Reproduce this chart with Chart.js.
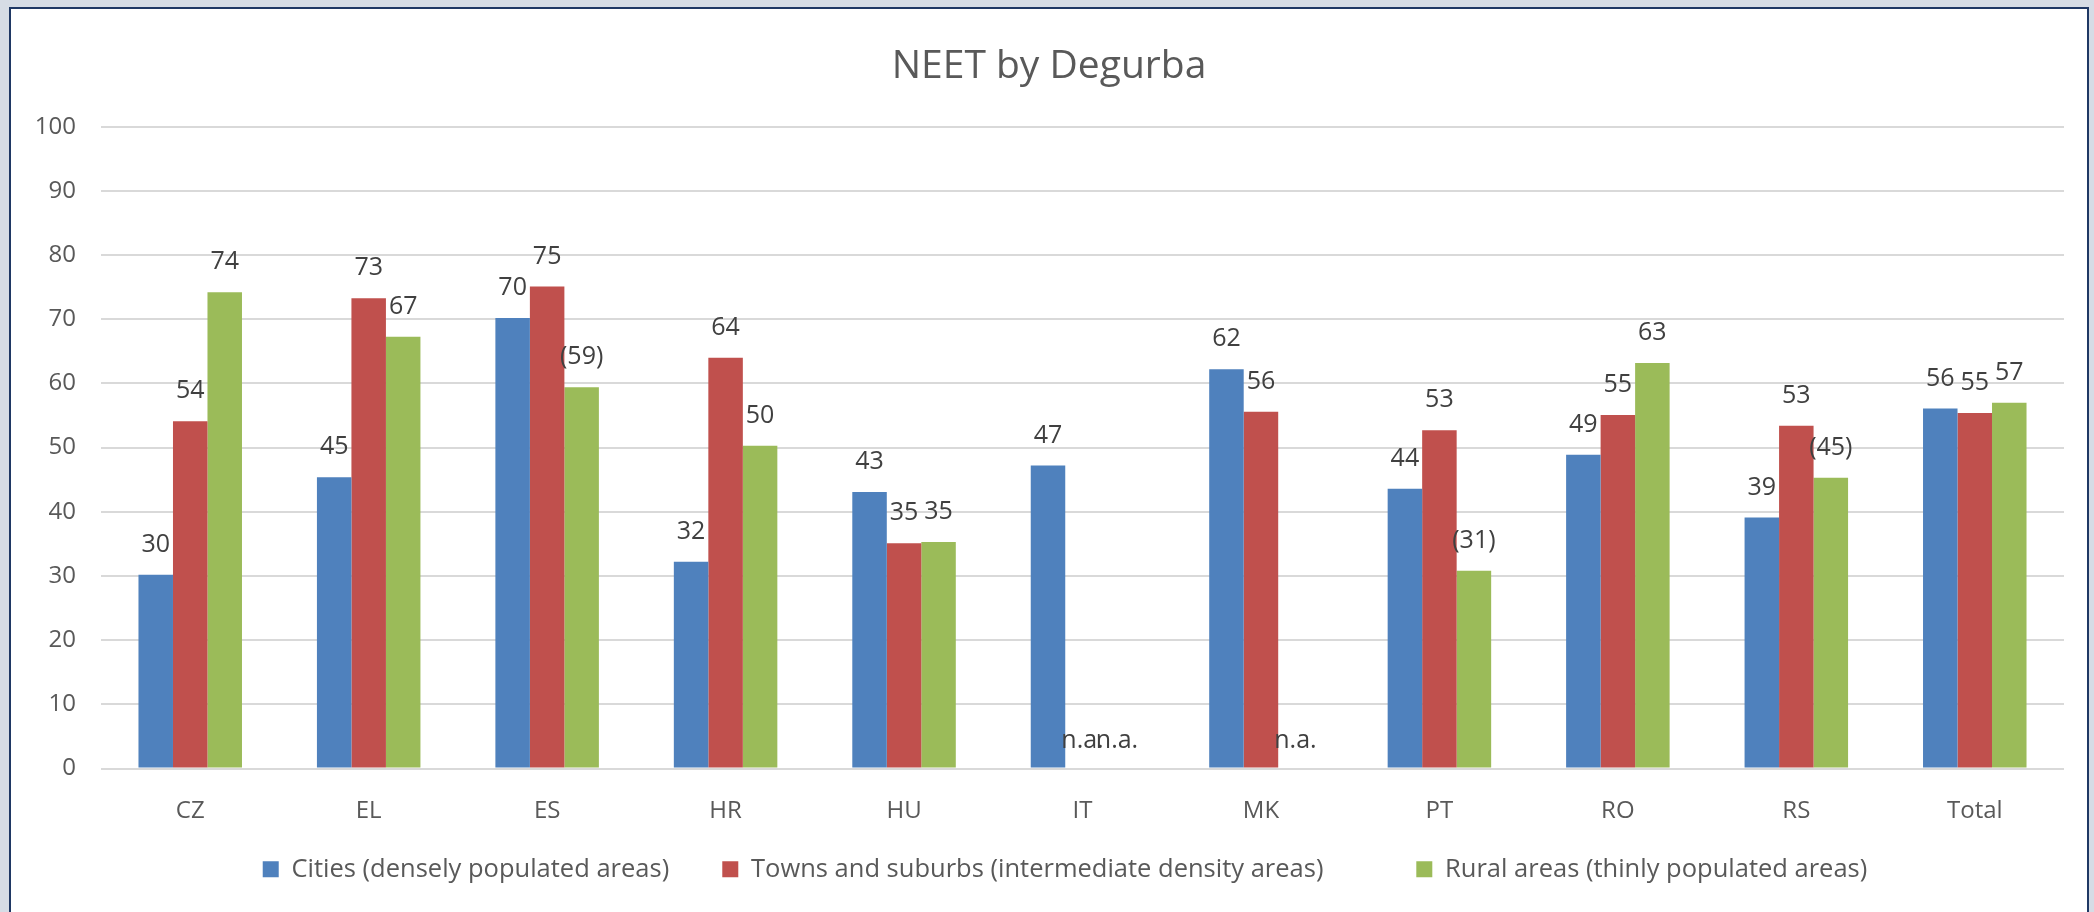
<!DOCTYPE html>
<html lang="en">
<head>
    <meta charset="UTF-8">
    <title>NEET by Degurba</title>
    <script src="https://cdn.jsdelivr.net/npm/chart.js"></script>
    <style>
        body {
            margin: 0;
            background-color: #d6dce5;
            overflow: hidden;
        }
        .frame {
            position: absolute;
            left: 9px;
            top: 7px;
            width: 2080px;
            height: 960px;
            box-sizing: border-box;
            border: 2px solid #1f3864;
            background: #fff;
        }
        #neetChart {
            position: absolute;
            left: 0;
            top: 0;
        }
    </style>
</head>
<body>
    <div class="frame">
        <canvas id="neetChart" width="2076" height="903"></canvas>
    </div>

    <script>
        // data
        const categories = ['CZ', 'EL', 'ES', 'HR', 'HU', 'IT', 'MK', 'PT', 'RO', 'RS', 'Total'];
        const cities = [30.2, 45.4, 70.2, 32.2, 43.1, 47.2, 62.2, 43.6, 48.9, 39.1, 56.1];
        const towns = [54.1, 73.3, 75.1, 64.0, 35.1, null, 55.6, 52.7, 55.1, 53.4, 55.4];
        const rural = [74.2, 67.3, 59.4, 50.3, 35.3, null, null, 30.8, 63.2, 45.3, 57.0];
        // values shown in brackets (low reliability)
        const ruralBracketed = [false, false, true, false, false, false, false, true, false, true, false];
        const yTicks = [0, 10, 20, 30, 40, 50, 60, 70, 80, 90, 100];

        const fontFamily = '"Open Sans", sans-serif';
        // extra spaces after each legend entry to widen the gaps
        const legendGaps = [5, 11, 0];

        // value labels above the bars, "n.a." where there is no value
        const valueLabels = {
            id: 'valueLabels',
            afterLayout(chart) {
                // legend sits a little right of centre in the original
                chart.legend.left += 16;
                chart.legend.right += 16;
            },
            afterDatasetsDraw(chart) {
                const ctx = chart.ctx;
                const zeroY = chart.scales.y.getPixelForValue(0);
                ctx.save();
                ctx.font = '25px ' + fontFamily;
                ctx.fillStyle = '#404040';
                ctx.textAlign = 'center';
                ctx.textBaseline = 'middle';
                chart.data.datasets.forEach((ds, di) => {
                    const meta = chart.getDatasetMeta(di);
                    meta.data.forEach((bar, i) => {
                        const v = ds.data[i];
                        if (v === null) {
                            ctx.fillText('n.a.', bar.x, zeroY - 28);
                            return;
                        }
                        let text = String(Math.round(v));
                        if (ds.bracketed && ds.bracketed[i]) text = '(' + text + ')';
                        ctx.fillText(text, bar.x, bar.y - 30);
                    });
                });
                ctx.restore();
            }
        };

        const ctx = document.getElementById('neetChart').getContext('2d');
        const neetChart = new Chart(ctx, {
            type: 'bar',
            data: {
                labels: categories,
                datasets: [{
                    label: 'Cities (densely populated areas)',
                    data: cities,
                    backgroundColor: '#4f81bd'
                }, {
                    label: 'Towns and suburbs (intermediate density areas)',
                    data: towns,
                    backgroundColor: '#c0504d'
                }, {
                    label: 'Rural areas (thinly populated areas)',
                    data: rural,
                    bracketed: ruralBracketed,
                    backgroundColor: '#9bbb59'
                }]
            },
            options: {
                responsive: false,
                animation: false,
                datasets: {
                    bar: {
                        categoryPercentage: 0.58,
                        barPercentage: 1.0
                    }
                },
                layout: {
                    padding: { left: 23, right: 23, top: 0, bottom: 20 }
                },
                plugins: {
                    title: {
                        display: true,
                        text: 'NEET by Degurba',
                        color: '#595959',
                        font: { family: fontFamily, size: 39, weight: 'normal' },
                        padding: { top: 34, bottom: 37 }
                    },
                    legend: {
                        position: 'bottom',
                        labels: {
                            color: '#595959',
                            font: { family: fontFamily, size: 25.5 },
                            boxWidth: 16,
                            boxHeight: 16,
                            padding: 20,
                            generateLabels: (chart) => {
                                const items = Chart.defaults.plugins.legend.labels.generateLabels(chart);
                                items.forEach((item, i) => {
                                    item.text += ' '.repeat(legendGaps[i]);
                                });
                                return items;
                            }
                        }
                    },
                    tooltip: { enabled: false }
                },
                scales: {
                    x: {
                        afterFit: (scale) => {
                            scale.height = 68;
                        },
                        grid: { display: false },
                        border: { display: false },
                        ticks: {
                            color: '#595959',
                            font: { family: fontFamily, size: 24 },
                            padding: 20
                        }
                    },
                    y: {
                        min: 0,
                        max: 100,
                        afterBuildTicks: (scale) => {
                            scale.ticks = yTicks.map(v => ({ value: v }));
                        },
                        afterFit: (scale) => {
                            scale.width = 67;
                        },
                        grid: {
                            color: '#d9d9d9',
                            lineWidth: 2,
                            drawTicks: false
                        },
                        border: { display: false },
                        ticks: {
                            color: '#595959',
                            font: { family: fontFamily, size: 24 },
                            padding: 25
                        }
                    }
                }
            },
            plugins: [valueLabels]
        });
    </script>
</body>
</html>
